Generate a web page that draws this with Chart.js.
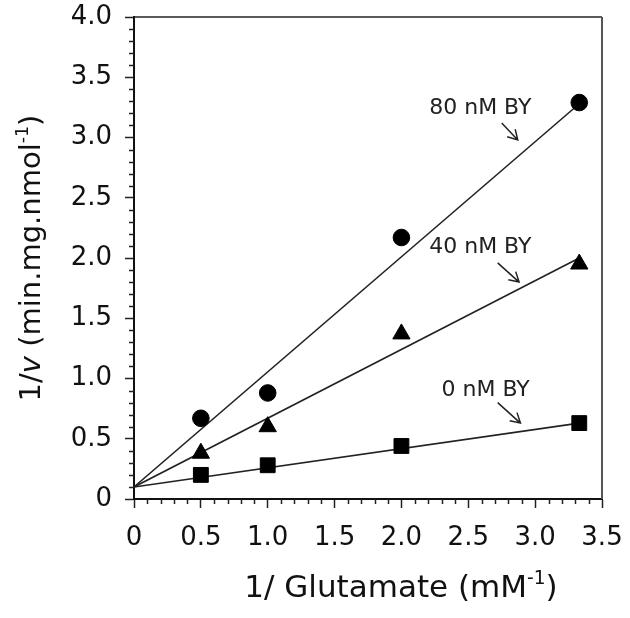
<!DOCTYPE html>
<html><head><meta charset="utf-8">
<script src="https://cdn.jsdelivr.net/npm/chart.js@4/dist/chart.umd.min.js"></script>
<style>html,body{margin:0;padding:0;background:#fff}#wrap{width:630px;height:618px}</style>
</head><body><div id="wrap"><canvas id="c" width="630" height="618"></canvas></div>
<script>
// ---- data ----
const glutamateInv = [0.5, 1.0, 2.0, 3.33];          // 1/[Glutamate] (mM^-1)
const invV_0nM  = [0.20, 0.28, 0.44, 0.63];          // squares
const invV_40nM = [0.38, 0.60, 1.37, 1.95];          // triangles
const invV_80nM = [0.67, 0.88, 2.17, 3.29];          // circles
const fitX      = [0, 3.33];                          // fitted lines span
const fit_0nM   = [0.10, 0.63];
const fit_40nM  = [0.10, 2.00];
const fit_80nM  = [0.10, 3.28];
const seriesNames = ['0 nM BY', '40 nM BY', '80 nM BY'];
const xTickStep = 0.5, yTickStep = 0.5, minorStep = 0.1;

// ---- annotation placement (data coordinates) ----
const annotationPlaces = [
  {tx: 2.59, ty: 3.24, a: [2.75, 3.12, 2.87, 2.98]},
  {tx: 2.59, ty: 2.09, a: [2.72, 1.96, 2.88, 1.80]},
  {tx: 2.63, ty: 0.90, a: [2.72, 0.80, 2.89, 0.63]}
];
const annotationOrder = [2, 1, 0]; // which series name each place belongs to

const FONT = 'DejaVu Sans';
const INK = '#111';

function pts(xs, ys){ return xs.map((x,i)=>({x:x, y:ys[i]})); }
const fmt = v => v === 0 ? '0' : v.toFixed(1);

const decor = {
  id: 'decor',
  afterDraw(chart){
    const ctx = chart.ctx, ca = chart.chartArea;
    const xs = chart.scales.x, ys = chart.scales.y;
    ctx.save();
    // frame (top & right)
    ctx.strokeStyle = '#222'; ctx.lineWidth = 1.5;
    ctx.beginPath(); ctx.moveTo(ca.left, ca.top); ctx.lineTo(ca.right, ca.top); ctx.stroke();
    ctx.strokeStyle = '#555'; ctx.lineWidth = 2;
    ctx.beginPath(); ctx.moveTo(ca.right, ca.top); ctx.lineTo(ca.right, ca.bottom); ctx.stroke();
    // minor ticks
    ctx.strokeStyle = '#222'; ctx.lineWidth = 1.5;
    ctx.beginPath();
    for (let i = 1; i < Math.round(ys.max/minorStep); i++){
      if (i % 5 === 0) continue;
      const y = Math.round(ys.getPixelForValue(i*minorStep)) + 0.5;
      ctx.moveTo(ca.left - 5, y); ctx.lineTo(ca.left, y);
    }
    for (let i = 1; i < Math.round(xs.max/minorStep); i++){
      if (i % 5 === 0) continue;
      const x = Math.round(xs.getPixelForValue(i*minorStep)) + 0.5;
      ctx.moveTo(x, ca.bottom); ctx.lineTo(x, ca.bottom + 5);
    }
    ctx.stroke();

    // rich text helper
    function rich(segs, size){
      const out = [];
      let w = 0;
      segs.forEach(s=>{
        const fs = s.sup ? size*0.6 : size;
        const f = (s.it ? 'italic ' : '') + fs + 'px ' + FONT;
        ctx.font = f;
        const m = ctx.measureText(s.t).width;
        out.push({t:s.t, f:f, w:m, dy: s.sup ? -size*0.42 : 0});
        w += m;
      });
      return {items: out, w: w};
    }
    function drawRich(r){
      let x = -r.w/2;
      ctx.textAlign = 'left'; ctx.textBaseline = 'alphabetic';
      r.items.forEach(it=>{ ctx.font = it.f; ctx.fillText(it.t, x, it.dy); x += it.w; });
    }
    ctx.fillStyle = INK;
    // x title
    ctx.save();
    ctx.translate(401, 597);
    drawRich(rich([{t:'1/ Glutamate (mM'},{t:'-1',sup:true},{t:')'}], 31));
    ctx.restore();
    // y title
    ctx.save();
    ctx.translate(40, (ca.top+ca.bottom)/2);
    ctx.rotate(-Math.PI/2);
    drawRich(rich([{t:'1/'},{t:'v',it:true},{t:' (min.mg.nmol'},{t:'-1',sup:true},{t:')'}], 29));
    ctx.restore();

    // annotations
    ctx.font = '22px ' + FONT;
    ctx.fillStyle = '#222';
    ctx.textAlign = 'center'; ctx.textBaseline = 'middle';
    annotationPlaces.forEach((p, k)=>{
      const name = seriesNames[annotationOrder[k]];
      ctx.fillText(name, xs.getPixelForValue(p.tx), ys.getPixelForValue(p.ty));
      const x1 = xs.getPixelForValue(p.a[0]), y1 = ys.getPixelForValue(p.a[1]);
      const x2 = xs.getPixelForValue(p.a[2]), y2 = ys.getPixelForValue(p.a[3]);
      ctx.strokeStyle = '#222'; ctx.lineWidth = 1.5;
      ctx.beginPath(); ctx.moveTo(x1,y1); ctx.lineTo(x2,y2);
      const ang = Math.atan2(y2-y1, x2-x1), L = 11, sp = Math.PI/6;
      ctx.moveTo(x2 - L*Math.cos(ang-sp), y2 - L*Math.sin(ang-sp)); ctx.lineTo(x2,y2);
      ctx.lineTo(x2 - L*Math.cos(ang+sp), y2 - L*Math.sin(ang+sp));
      ctx.stroke();
    });
    ctx.restore();
  }
};

const lineDs = (ys) => ({type:'line', data: pts(fitX, ys), borderColor:'#222', borderWidth:1.6,
  pointRadius:0, fill:false, tension:0, order:2});
const markDs = (ys, style, r, label) => ({type:'scatter', label: label, data: pts(glutamateInv, ys),
  pointStyle: style, pointRadius: r, pointHoverRadius: r, backgroundColor:'#000', borderColor:'#000',
  pointBorderWidth: 1, showLine:false, order:1});

new Chart(document.getElementById('c'), {
  data: {
    datasets: [
      lineDs(fit_0nM), lineDs(fit_40nM), lineDs(fit_80nM),
      markDs(invV_0nM, 'rect', 10.5, seriesNames[0]),
      markDs(invV_40nM, 'triangle', 10, seriesNames[1]),
      markDs(invV_80nM, 'circle', 8.3, seriesNames[2])
    ]
  },
  options: {
    responsive: false, animation: false, devicePixelRatio: 1,
    layout: {padding: {top: 17, right: 28, left: 0, bottom: 0}},
    plugins: {legend: {display:false}, tooltip: {enabled:false}},
    scales: {
      x: {type:'linear', position:'bottom', min:0, max:3.5,
        ticks: {stepSize: xTickStep, callback: fmt, font:{family:FONT, size:26}, color: INK, padding: 15, maxRotation:0, autoSkip:false},
        grid: {drawOnChartArea:false, drawTicks:true, tickLength:9, tickWidth:1.5, tickColor:'#222'},
        border: {display:true, color:'#111', width:2},
        afterFit: s => { s.height = 618 - 499; s.paddingLeft = 0; s.paddingRight = 0; }
      },
      y: {type:'linear', position:'left', min:0, max:4,
        ticks: {stepSize: yTickStep, callback: fmt, font:{family:FONT, size:26}, color: INK, padding: 13, autoSkip:false},
        grid: {drawOnChartArea:false, drawTicks:true, tickLength:9, tickWidth:1.5, tickColor:'#222'},
        border: {display:true, color:'#111', width:2},
        afterFit: s => { s.width = 134; s.paddingTop = 0; s.paddingBottom = 0; }
      }
    }
  },
  plugins: [decor]
});
</script>
</body></html>
